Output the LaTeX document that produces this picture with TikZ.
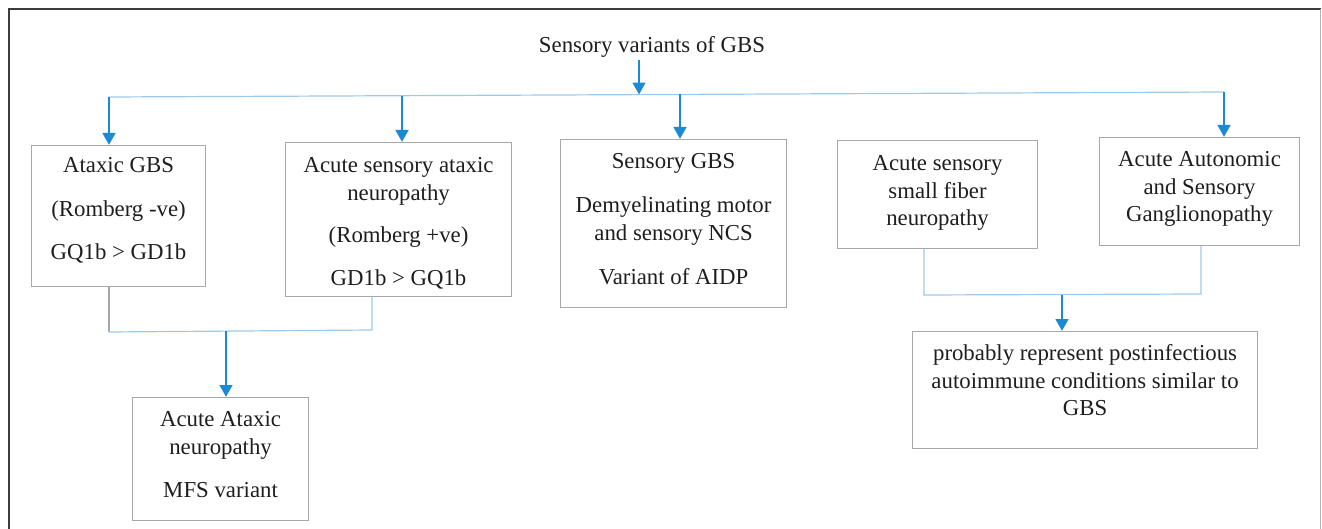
\documentclass[tikz,border=0pt]{standalone}
\usepackage{fontspec}
\setmainfont{Liberation Serif}
\usetikzlibrary{arrows.meta}
\definecolor{boxgray}{HTML}{A8A8A8}
\definecolor{linkblue}{HTML}{9DC9EC}
\definecolor{arrowblue}{HTML}{1B8AD3}
\definecolor{framedark}{HTML}{3C3C3C}
\definecolor{framelight}{HTML}{B4B4B4}
\definecolor{inktext}{HTML}{1E1E1E}
\newcommand\boxtext[4]{\parbox[c][#2pt][t]{#1pt}{\centering\vspace*{#3pt}\strut #4}}
\begin{document}
\begin{tikzpicture}[x=1pt,y=-1pt,
  every node/.style={font=\fontsize{22.8}{27.5}\selectfont, text=inktext},
  box/.style={draw=boxgray, line width=1.1pt, inner sep=0pt, anchor=north west},
  link/.style={draw=linkblue, line width=1.2pt},
  graylink/.style={draw=boxgray, line width=1.1pt},
  arr/.style={draw=arrowblue, line width=2.8pt, -{Triangle[width=12.5pt,length=12pt]}}]
\useasboundingbox (0,0) rectangle (1322,529);
% frame
\draw[framedark, line width=2pt] (8.5,529) -- (8.5,9.5) -- (1321,9.5);
\draw[framelight, line width=1.5pt] (1320.5,9.5) -- (1320.5,529);

% title
\node[anchor=base, inner sep=2pt] (title) at (652,53) {Sensory variants of GBS};

% boxes
\node[box] (b1) at (31,145) {\boxtext{174}{141}{7.75}{Ataxic GBS\\[16pt](Romberg -ve)\\[15.5pt]GQ1b > GD1b}};
\node[box] (b2) at (285,142) {\boxtext{226}{154}{10.75}{Acute sensory ataxic\\neuropathy\\[15pt](Romberg +ve)\\[15.5pt]GD1b > GQ1b}};
\node[box] (b3) at (560,139) {\boxtext{226}{168}{9.75}{Sensory GBS\\[16.5pt]Demyelinating motor\\and sensory NCS\\[16.5pt]Variant of AIDP}};
\node[box] (b4) at (837,140) {\boxtext{200}{108}{10.75}{Acute sensory\\small fiber\\neuropathy}};
\node[box] (b5) at (1099,137) {\boxtext{200}{108}{9.75}{Acute Autonomic\\and Sensory\\Ganglionopathy}};
\node[box] (b6) at (912,331) {\boxtext{345}{117}{9.75}{probably represent postinfectious\\autoimmune conditions similar to\\GBS}};
\node[box] (b7) at (132,397) {\boxtext{176}{123}{9.75}{Acute Ataxic\\neuropathy\\[15.5pt]MFS variant}};

% top distribution line
\coordinate (hl) at (109,97);
\coordinate (hr) at (1224,92);
\coordinate (j0) at (639,94.6);
\coordinate (j2) at (402,95.7);
\coordinate (j3) at (680,94.4);
\draw[link] (hl) -- (hr);
\draw[arr] (title.south -| j0) -- (j0);
\draw[arr] (hl) -- (hl |- b1.north);
\draw[arr] (j2) -- (j2 |- b2.north);
\draw[arr] (j3) -- (j3 |- b3.north);
\draw[arr] (hr) -- (hr |- b5.north);

% bottom-left merge
\coordinate (m1l) at (109,332);
\coordinate (m1r) at (372,330);
\coordinate (j7) at (226,331);
\draw[graylink] (m1l |- b1.south) -- (m1l);
\draw[link] (m1l) -- (m1r) -- (m1r |- b2.south);
\draw[arr] (j7) -- (j7 |- b7.north);

% bottom-right merge
\coordinate (m2l) at (924,295);
\coordinate (m2r) at (1201,294);
\coordinate (j6) at (1062,294.5);
\draw[link] (m2l |- b4.south) -- (m2l) -- (m2r) -- (m2r |- b5.south);
\draw[arr] (j6) -- (j6 |- b6.north);
\end{tikzpicture}
\end{document}
